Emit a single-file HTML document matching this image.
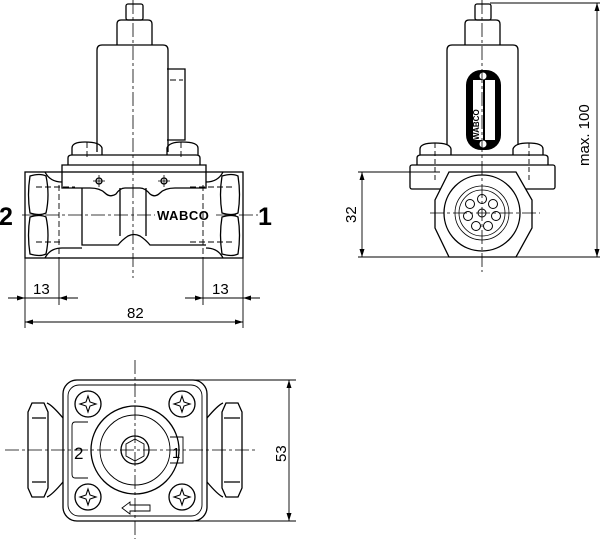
<!DOCTYPE html>
<html><head><meta charset="utf-8"><style>
html,body{margin:0;padding:0;background:#fff;}
svg{display:block}
text{font-family:"Liberation Sans",Arial,sans-serif;fill:#000}
</style></head><body>
<svg width="600" height="539" viewBox="0 0 600 539" xmlns="http://www.w3.org/2000/svg">
<g fill="none" stroke="#000" stroke-width="1.3">
<!-- FRONT VIEW -->
<rect x="126" y="4" width="17" height="16" rx="2"/>
<path d="M117 45 V24 Q117 20 121 20 H148 Q152 20 152 24 V45"/>
<path d="M97 152 V50 Q97 45 102 45 H163 Q168 45 168 50 V152"/>
<path d="M167 69 H185 V140 H167"/>
<path d="M72 155 V148 Q72 142 85 142 Q100 142 102 148 V155"/>
<path d="M167 155 V148 Q169 142 182 142 Q198 142 198 148 V155"/>
<path d="M68 165 V158 Q68 155 72 155 H196 Q200 155 200 158 V165"/>
<rect x="25" y="172" width="218" height="86"/>
<path d="M62 165 H206 V188 H175 Q165 188 160 193 Q155 198 150 194 Q145 188 140 188 H125 Q120 188 116 194 Q110 198 105 193 Q100 188 90 188 H62 Z"/>
<path d="M82 188 V245 H118 Q122 240 128 236 Q134 233 140 236 Q146 240 150 245 H206"/>
<path d="M120 188 V236 M146 188 V236"/>
<path d="M45 172 Q50 182 62 182 M45 258 Q50 248 62 248 H82 M223 172 Q218 182 206 182 M223 258 Q218 248 206 248"/>
<path d="M30 176 Q40 173 46 176 Q50 195 46 213 Q40 216 30 213 Q27 195 30 176 Z"/>
<path d="M30 217 Q40 214 46 217 Q50 235 46 254 Q40 257 30 254 Q27 235 30 217 Z"/>
<path d="M222 176 Q232 173 238 176 Q241 195 238 213 Q232 216 222 213 Q219 195 222 176 Z"/>
<path d="M222 217 Q232 214 238 217 Q241 235 238 254 Q232 257 222 254 Q219 235 222 217 Z"/>
<circle cx="99" cy="181" r="3"/><circle cx="164" cy="181" r="3"/>
</g>
<g fill="none" stroke="#000" stroke-width="0.9" stroke-dasharray="6,3">
<path d="M59 185 V258 M203 185 V258 M36 187 H75 M36 242 H62 M190 187 H232 M190 242 H232 M170 80 H183 M87 142 V160 M181 142 V160"/>
</g>
<g stroke="#000" stroke-width="0.8" fill="none" stroke-dasharray="14,3,3,3">
<path d="M133 0 V278 M22 215 H155 M216 215 H258"/>
</g>
<path d="M93 181 H105 M99 175 V187 M158 181 H170 M164 175 V187" stroke="#000" stroke-width="0.8"/>
<text x="157" y="220" font-size="13" font-weight="bold" letter-spacing="0.5">WABCO</text>
<text x="-1" y="225" font-size="25" font-weight="bold">2</text>
<text x="258" y="225" font-size="25" font-weight="bold">1</text>
<!-- dims front -->
<g stroke="#000" stroke-width="0.9" fill="none">
<path d="M25 258 V328 M59 258 V305 M203 258 V305 M243 258 V328"/>
<path d="M8 298 H78 M185 298 H260 M25 322 H243"/>
</g>
<g fill="#000">
<path d="M25 298 l-8 -2.5 v5 z M59 298 l8 -2.5 v5 z M203 298 l-8 -2.5 v5 z M243 298 l8 -2.5 v5 z M25 322 l8 -2.5 v5 z M243 322 l-8 -2.5 v5 z"/>
</g>
<text x="33" y="294" font-size="15">13</text>
<text x="212" y="294" font-size="15">13</text>
<text x="127" y="318" font-size="15">82</text>

<!-- SIDE VIEW -->
<g fill="none" stroke="#000" stroke-width="1.3">
<rect x="475" y="4" width="16" height="16" rx="2"/>
<path d="M465 45 V24 Q465 20 469 20 H496 Q500 20 500 24 V45"/>
<path d="M447 145 V50 Q447 45 452 45 H513 Q518 45 518 50 V145"/>
<path d="M420 155 V149 Q420 143 435 143 Q450 143 451 149 V155 M513 155 V149 Q515 143 528 143 Q543 143 543 149 V155"/>
<path d="M417 165 V158 Q417 155 421 155 H544 Q548 155 548 158 V165"/>
<rect x="410" y="165" width="145" height="24" rx="2"/>
<path d="M449 172 H516 L532 200 V228 L516 257 H449 L435 228 V200 Z" fill="#fff"/>
<circle cx="482" cy="213" r="38"/>
<circle cx="482" cy="213" r="27" stroke-width="0.8"/>
<circle cx="482" cy="213" r="23" stroke-width="0.8"/>
</g>
<g fill="none" stroke="#000" stroke-width="1">
<circle cx="482" cy="213" r="4"/>
<circle cx="482" cy="199" r="4.5"/><circle cx="493" cy="204" r="4.5"/><circle cx="496" cy="216" r="4.5"/>
<circle cx="488" cy="226" r="4.5"/><circle cx="476" cy="226" r="4.5"/><circle cx="468" cy="216" r="4.5"/>
<circle cx="470" cy="204" r="4.5"/>
</g>
<rect x="466" y="70" width="35" height="80" rx="15" fill="#000"/>
<rect x="473" y="80" width="22" height="60" fill="#fff"/>
<rect x="483" y="80" width="2" height="60" fill="#000"/>
<circle cx="483" cy="76" r="3.5" fill="#fff"/><circle cx="483" cy="144" r="3.5" fill="#fff"/>
<text transform="translate(479,140) rotate(-90)" font-size="8" font-weight="bold">WABCO</text>
<g stroke="#000" stroke-width="0.8" fill="none" stroke-dasharray="14,3,3,3">
<path d="M482 0 V272 M430 213 H540"/>
</g>
<g stroke="#000" stroke-width="0.9" fill="none" stroke-dasharray="5,3">
<path d="M435 143 V183 M529 143 V183"/>
</g>
<g stroke="#000" stroke-width="0.9" fill="none">
<path d="M490 3 H600 M358 172 H440 M358 257 H600 M362 172 V257 M597 3 V257"/>
</g>
<g fill="#000">
<path d="M362 172 l-2.5 8 h5 z M362 257 l-2.5 -8 h5 z M597 3 l-2.5 8 h5 z M597 257 l-2.5 -8 h5 z"/>
</g>
<text transform="translate(356,223) rotate(-90)" font-size="15">32</text>
<text transform="translate(589,166) rotate(-90)" font-size="15">max. 100</text>

<!-- TOP VIEW -->
<g fill="none" stroke="#000" stroke-width="1.3">
<rect x="63" y="380" width="144" height="141" rx="14"/>
<rect x="68" y="385" width="134" height="131" rx="11" stroke-width="0.9"/>
<path d="M63 418 Q52 405 47 403 M63 482 Q52 495 47 497 M207 418 Q218 405 223 403 M207 482 Q218 495 223 497"/>
<path d="M32 403 H44 L48 412 V488 L44 497 H32 L28 488 V412 Z"/>
<path d="M226 403 H238 L242 412 V488 L238 497 H226 L222 488 V412 Z"/>
<path d="M32 418 H46 M32 482 H46 M224 418 H240 M224 482 H240"/>
<circle cx="135" cy="450" r="44"/>
<circle cx="135" cy="450" r="35" stroke-width="0.9"/>
<circle cx="135" cy="450" r="14"/>
<path d="M135 439 L144 444 V456 L135 461 L126 456 V444 Z" stroke-width="0.9"/>
<path d="M88 422 H75 Q72 422 72 426 V474 Q72 478 75 478 H88" stroke-width="0.9"/>
<path d="M170 437 H183 V463 H170" stroke-width="0.9"/>
<circle cx="88" cy="404" r="13"/><circle cx="182" cy="404" r="13"/>
<circle cx="88" cy="497" r="13"/><circle cx="182" cy="497" r="13"/>
<path d="M122 508 L130 502 V505 H150 V511 H130 V514 Z" stroke-width="0.9"/>
</g>
<g fill="none" stroke="#000" stroke-width="1.1">
<path d="M88 396 L90 402 L96 404 L90 406 L88 412 L86 406 L80 404 L86 402 Z"/>
<path d="M182 396 L184 402 L190 404 L184 406 L182 412 L180 406 L174 404 L180 402 Z"/>
<path d="M88 489 L90 495 L96 497 L90 499 L88 505 L86 499 L80 497 L86 495 Z"/>
<path d="M182 489 L184 495 L190 497 L184 499 L182 505 L180 499 L174 497 L180 495 Z"/>
</g>
<text x="74" y="459" font-size="17">2</text>
<text x="172" y="458" font-size="15">1</text>
<g stroke="#000" stroke-width="0.8" fill="none" stroke-dasharray="14,3,3,3">
<path d="M135 360 V539 M5 450 H255"/>
</g>
<g stroke="#000" stroke-width="0.9" fill="none">
<path d="M190 380 H296 M190 521 H296 M289 380 V521"/>
</g>
<g fill="#000"><path d="M289 380 l-2.5 8 h5 z M289 521 l-2.5 -8 h5 z"/></g>
<text transform="translate(286,462) rotate(-90)" font-size="15">53</text>
</svg>
</body></html>
